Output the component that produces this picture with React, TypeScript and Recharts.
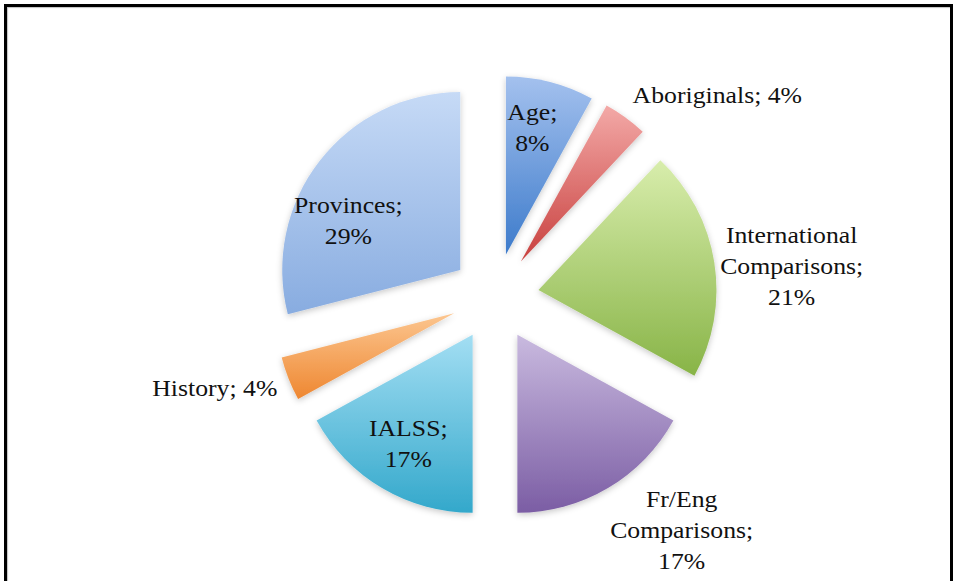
import { PieChart, Pie, Cell, Sector } from 'recharts';

const categories = [
  'Age',
  'Aboriginals',
  'International Comparisons',
  'Fr/Eng Comparisons',
  'IALSS',
  'History',
  'Provinces',
];
const shares = [8, 4, 21, 17, 17, 4, 29];

const topColors = ['#a4c1ee', '#f3a9a7', '#d8edac', '#c9badf', '#a3def3', '#fcc690', '#c6daf6'];
const bottomColors = ['#3d7bcb', '#c8403e', '#88b447', '#7b5da4', '#33a8cb', '#ee8731', '#88ace0'];

// labels Excel put inside the slice, plus a few hand nudges
const insideLabels = ['Age', 'IALSS', 'Provinces'];
const labelNudge: Record<string, [number, number]> = {
  Age: [-5, -4],
  Provinces: [-12, 28],
  'International Comparisons': [-6, 13],
  'Fr/Eng Comparisons': [-4, -8],
};

const data = categories.map((name, i) => ({ name, value: shares[i] }));

const EXPLODE = 44;
const FONT = 23;
const STRETCH = 1.12;
const LINE = 31;
const RAD = Math.PI / 180;
const FONT_FAMILY = '"Liberation Serif", "Times New Roman", serif';

let ctx: CanvasRenderingContext2D | null = null;
function textWidth(s: string) {
  if (!ctx) ctx = document.createElement('canvas').getContext('2d');
  if (!ctx) return s.length * FONT * 0.5 * STRETCH;
  ctx.font = `${FONT}px "Liberation Serif"`;
  return ctx.measureText(s).width * STRETCH;
}

function labelLines(name: string, value: number, inside: boolean) {
  const words = name.split(' ');
  if (!inside && words.length === 1) return [`${name}; ${value}%`];
  words[words.length - 1] += ';';
  return [...words, `${value}%`];
}

function ExplodedSector(props: any) {
  const { cx, cy, midAngle, innerRadius, outerRadius, startAngle, endAngle, fill } = props;
  const ox = EXPLODE * Math.cos(-midAngle * RAD);
  const oy = EXPLODE * Math.sin(-midAngle * RAD);
  return (
    <g filter="url(#sliceShadow)">
      <Sector
        cx={cx + ox}
        cy={cy + oy}
        innerRadius={innerRadius}
        outerRadius={outerRadius}
        startAngle={startAngle}
        endAngle={endAngle}
        fill={fill}
        stroke="none"
      />
    </g>
  );
}

function renderLabel(props: any) {
  const { cx, cy, midAngle, outerRadius } = props;
  const name: string = props.name ?? props.payload?.name;
  const value: number = props.value ?? props.payload?.value;
  const inside = insideLabels.includes(name);
  const dx = Math.cos(-midAngle * RAD);
  const dy = Math.sin(-midAngle * RAD);
  const lines = labelLines(name, value, inside);
  const h = lines.length * LINE;
  const w = Math.max(...lines.map(textWidth));

  let x: number;
  let y: number;
  if (inside) {
    const r = EXPLODE + outerRadius * 0.71;
    x = cx + r * dx;
    y = cy + r * dy;
  } else {
    const r = EXPLODE + outerRadius + 12;
    x = cx + r * dx + (dx >= 0 ? w / 2 : -w / 2);
    y = cy + r * dy + (dy * h) / 2;
  }
  const [nx, ny] = labelNudge[name] ?? [0, 0];
  x += nx;
  y += ny;

  return (
    <g transform={`translate(${x},${y}) scale(${STRETCH},1)`}>
      <text textAnchor="middle" fontFamily={FONT_FAMILY} fontSize={FONT} fill="#111">
        {lines.map((line, i) => (
          <tspan key={i} x={0} y={(i - (lines.length - 1) / 2) * LINE + FONT * 0.33}>
            {line}
          </tspan>
        ))}
      </text>
    </g>
  );
}

export default function App() {
  return (
    <div
      style={{
        position: 'absolute',
        left: 0,
        top: 0,
        width: 958,
        height: 581,
        overflow: 'hidden',
        background: '#fff',
      }}
    >
      <div
        style={{
          position: 'absolute',
          left: 4,
          top: 4,
          width: 943,
          height: 600,
          border: '3px solid #000',
          boxShadow: 'inset 1px 1px 1px rgba(0,0,0,0.25)',
        }}
      />
      <div style={{ position: 'absolute', left: 0, top: 0 }}>
        <PieChart width={958} height={581}>
          <defs>
            {categories.map((c, i) => (
              <linearGradient key={c} id={`slice-${i}`} x1="0" y1="0" x2="0" y2="1">
                <stop offset="0%" stopColor={topColors[i]} />
                <stop offset="100%" stopColor={bottomColors[i]} />
              </linearGradient>
            ))}
            <filter id="sliceShadow" x="-20%" y="-20%" width="140%" height="140%">
              <feDropShadow dx="0" dy="2" stdDeviation="3" floodColor="#000" floodOpacity="0.22" />
            </filter>
          </defs>
          <Pie
            data={data}
            dataKey="value"
            nameKey="name"
            cx={490}
            cy={292}
            outerRadius={178}
            startAngle={90}
            endAngle={-270}
            paddingAngle={0}
            stroke="none"
            shape={ExplodedSector}
            label={renderLabel}
            labelLine={false}
            isAnimationActive={false}
          >
            {data.map((d, i) => (
              <Cell key={d.name} fill={`url(#slice-${i})`} />
            ))}
          </Pie>
        </PieChart>
      </div>
    </div>
  );
}
